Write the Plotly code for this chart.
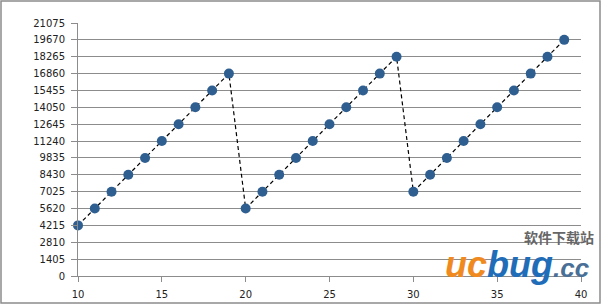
import plotly.graph_objects as go

x_vals = list(range(10, 40))
y_vals = [4215, 5620, 7025, 8430, 9835, 11240, 12645, 14050, 15455, 16860,
          5620, 7025, 8430, 9835, 11240, 12645, 14050, 15455, 16860, 18265,
          7025, 8430, 9835, 11240, 12645, 14050, 15455, 16860, 18265, 19670]
y_ticks = [0, 1405, 2810, 4215, 5620, 7025, 8430, 9835, 11240, 12645,
           14050, 15455, 16860, 18265, 19670, 21075]
x_ticks = [10, 15, 20, 25, 30, 35, 40]

W, H = 602, 305
L, R, T, B = 78, 21, 23, 29
pw, ph = W - L - R, H - T - B

fig = go.Figure()
fig.add_trace(go.Scatter(
    x=x_vals, y=y_vals, mode="lines+markers",
    line=dict(color="black", width=1.2, dash="4px,3px"),
    marker=dict(color="#2F5F91", size=10, line=dict(width=0)),
    showlegend=False, cliponaxis=False))

font = dict(family="DejaVu Sans, Verdana, sans-serif", size=10, color="#222")
fig.update_layout(
    width=W, height=H, margin=dict(l=L, r=R, t=T, b=B, autoexpand=False),
    paper_bgcolor="white", plot_bgcolor="white", font=font,
    xaxis=dict(range=[10, 40], tickvals=x_ticks, automargin=False,
               ticktext=[str(v) for v in x_ticks], showgrid=False, zeroline=False,
               showline=True, linecolor="#8c8c8c", linewidth=1,
               ticks="outside", ticklen=5, tickcolor="#8c8c8c", tickfont=font,
               ticklabelstandoff=4),
    yaxis=dict(range=[0, 21075], tickvals=y_ticks, automargin=False,
               ticktext=[str(v) for v in y_ticks], showgrid=True,
               gridcolor="#8c8c8c", gridwidth=1, zeroline=False,
               showline=True, linecolor="#8c8c8c", linewidth=1,
               ticks="outside", ticklen=6, tickcolor="#8c8c8c", tickfont=font,
               ticklabelstandoff=4),
)

# outer border
fig.add_shape(type="rect", xref="paper", yref="paper",
              x0=(1 - L) / pw, x1=(600 - L) / pw,
              y0=-(303 - T - ph) / ph, y1=1 + (T - 1) / ph,
              line=dict(color="#8c8c8c", width=1.5), fillcolor="rgba(0,0,0,0)")

# watermark
fig.add_annotation(xref="paper", yref="paper",
                   x=(596 - L) / pw, y=(H - B - 237) / ph,
                   xanchor="right", yanchor="middle",
                   text="<b>软件下载站</b>", showarrow=False,
                   font=dict(family="Noto Sans CJK SC", size=14, color="#666"))
fig.add_annotation(xref="paper", yref="paper",
                   x=(592 - L) / pw, y=(H - B - 264) / ph,
                   xanchor="right", yanchor="middle", showarrow=False,
                   text="<b><i><span style='color:#F08A1E'>uc</span>"
                        "<span style='color:#1F6DB8'>bug</span>"
                        "<span style='color:#4A6F96;font-size:26px'>.cc</span></i></b>",
                   font=dict(family="Liberation Sans", size=36, color="#1F6DB8"))

fig.write_html("out.html")
